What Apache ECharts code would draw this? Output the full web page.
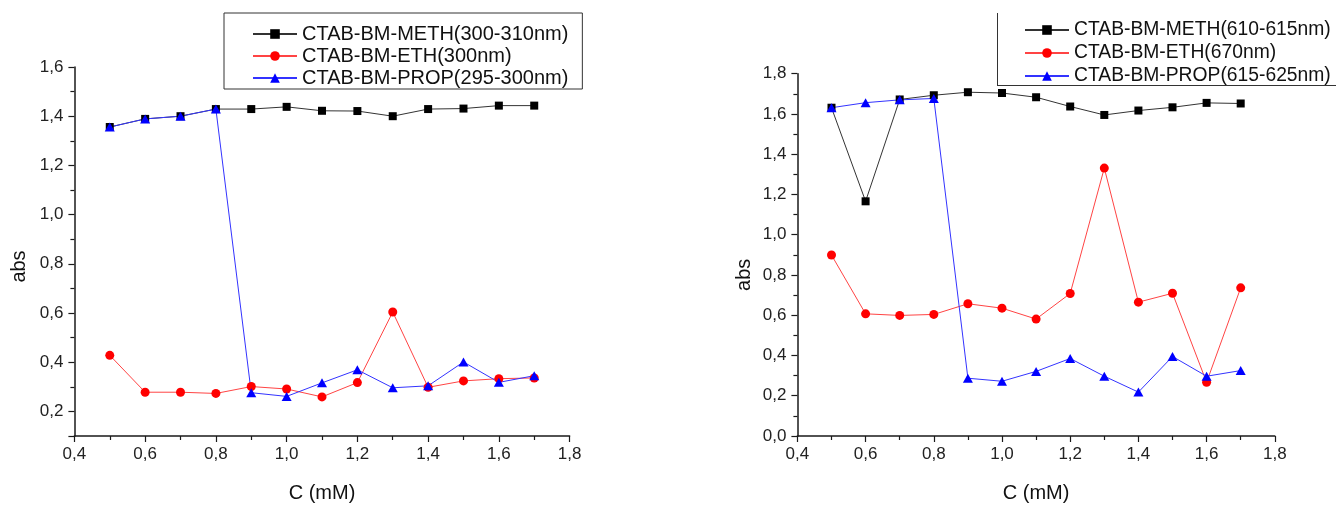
<!DOCTYPE html>
<html>
<head>
<meta charset="utf-8">
<script src="https://cdn.jsdelivr.net/npm/echarts@6/dist/echarts.min.js"></script>
<style>
html,body{margin:0;padding:0;background:#fff;}
#chart{width:1336px;height:508px;}
</style>
</head>
<body>
<div id="chart"></div>
<script>
// ---------- data ----------
const conc = [0.5, 0.6, 0.7, 0.8, 0.9, 1.0, 1.1, 1.2, 1.3, 1.4, 1.5, 1.6, 1.7];

const leftNames = ['CTAB-BM-METH(300-310nm)', 'CTAB-BM-ETH(300nm)', 'CTAB-BM-PROP(295-300nm)'];
const leftMeth = [1.356, 1.389, 1.400, 1.429, 1.429, 1.438, 1.422, 1.421, 1.400, 1.429, 1.431, 1.443, 1.443];
const leftEth  = [0.428, 0.278, 0.278, 0.273, 0.301, 0.291, 0.259, 0.317, 0.604, 0.298, 0.324, 0.333, 0.336];
const leftProp = [1.356, 1.389, 1.400, 1.429, 0.276, 0.261, 0.316, 0.369, 0.296, 0.304, 0.401, 0.318, 0.345];

const rightNames = ['CTAB-BM-METH(610-615nm)', 'CTAB-BM-ETH(670nm)', 'CTAB-BM-PROP(615-625nm)'];
const rightMeth = [1.631, 1.166, 1.672, 1.693, 1.708, 1.704, 1.683, 1.637, 1.595, 1.617, 1.633, 1.655, 1.652];
const rightEth  = [0.899, 0.607, 0.599, 0.604, 0.657, 0.635, 0.581, 0.708, 1.331, 0.665, 0.709, 0.267, 0.736];
const rightProp = [1.631, 1.656, 1.670, 1.677, 0.287, 0.272, 0.321, 0.385, 0.297, 0.218, 0.395, 0.297, 0.325];

const xTitle = 'C (mM)';
const yTitle = 'abs';

// ---------- helpers ----------
const FONT = '"Liberation Sans", Arial, sans-serif';
const pair = (xs, ys) => xs.map((x, i) => [x, ys[i]]);
const comma = v => (Math.round(v * 10) / 10).toFixed(1).replace('.', ',');
const AXC = '#1a1a1a';

function xAxis(grid) {
  return {
    type: 'value', gridIndex: grid, min: 0.4, max: 1.8, interval: 0.2,
    name: xTitle, nameLocation: 'middle', nameGap: 47,
    nameTextStyle: { fontFamily: FONT, fontSize: 20, color: '#111' },
    axisLine: { show: true, onZero: false, lineStyle: { color: AXC, width: 1.5 } },
    axisTick: { show: true, inside: false, length: 6, lineStyle: { color: AXC, width: 1.2 } },
    minorTick: { show: true, splitNumber: 2, length: 4, lineStyle: { color: AXC, width: 1.2 } },
    axisLabel: { formatter: comma, fontFamily: FONT, fontSize: 17, color: '#222', margin: 10 },
    splitLine: { show: false }
  };
}

const symMeth = { symbol: 'rect', symbolSize: 8, color: '#000000', lw: 1 };
const symEth = { symbol: 'circle', symbolSize: 9, color: '#ff0000', lw: 1 };
const symProp = { symbol: 'triangle', symbolSize: [10, 9], color: '#0000ff', lw: 1 };

function series(name, data, s, idx, lineColor) {
  return {
    type: 'line', name: name, data: data, xAxisIndex: idx, yAxisIndex: idx,
    symbol: s.symbol, symbolSize: s.symbolSize, showAllSymbol: true,
    lineStyle: { color: lineColor, width: s.lw },
    itemStyle: { color: s.color },
    emphasis: { disabled: true },
    animation: false, z: 3
  };
}

const legendBase = {
  orient: 'vertical', itemWidth: 44, itemHeight: 12, itemGap: 2,
  textStyle: { fontFamily: FONT, fontSize: 20, color: '#111', lineHeight: 20 },
  selectedMode: false, align: 'left'
};

const option = {
  backgroundColor: '#ffffff',
  animation: false,
  grid: [
    { left: 74.4, top: 67, right: 1336 - 569.6, bottom: 508 - 444.3, containLabel: false },
    { left: 797.4, top: 73.7, right: 1336 - 1274.8, bottom: 508 - 453.3, containLabel: false }
  ],
  xAxis: [xAxis(0), xAxis(1)],
  yAxis: [
    {
      type: 'value', gridIndex: 0, min: 0.1, max: 1.6, splitNumber: 8,
      name: yTitle, nameLocation: 'middle', nameGap: 45, nameRotate: 90,
      nameTextStyle: { fontFamily: FONT, fontSize: 20, color: '#111', padding: [0, 30, 0, 0] },
      axisLine: { show: true, onZero: false, lineStyle: { color: AXC, width: 1.5 } },
      axisTick: { show: true, inside: false, length: 6, lineStyle: { color: AXC, width: 1.2 } },
      minorTick: { show: true, splitNumber: 2, length: 4, lineStyle: { color: AXC, width: 1.2 } },
      axisLabel: { formatter: comma, fontFamily: FONT, fontSize: 17, color: '#222', margin: 11, showMinLabel: false },
      splitLine: { show: false }
    },
    {
      type: 'value', gridIndex: 1, min: 0, max: 1.8, interval: 0.2,
      name: yTitle, nameLocation: 'middle', nameGap: 43, nameRotate: 90,
      nameTextStyle: { fontFamily: FONT, fontSize: 20, color: '#111', padding: [0, 40, 0, 0] },
      axisLine: { show: true, onZero: false, lineStyle: { color: AXC, width: 1.5 } },
      axisTick: { show: true, inside: false, length: 6, lineStyle: { color: AXC, width: 1.2 } },
      minorTick: { show: true, splitNumber: 2, length: 4, lineStyle: { color: AXC, width: 1.2 } },
      axisLabel: { formatter: comma, fontFamily: FONT, fontSize: 17, color: '#222', margin: 11 },
      splitLine: { show: false }
    }
  ],
  legend: [
    Object.assign({}, legendBase, {
      data: leftNames, left: 224, top: 13,
      padding: [11, 14, 1, 28],
      borderColor: '#333', borderWidth: 1
    }),
    Object.assign({}, legendBase, {
      data: rightNames, left: 997, top: 14,
      padding: [6, 4, 2, 27],
      itemGap: 3,
      textStyle: { fontFamily: FONT, fontSize: 19.3, color: '#111', lineHeight: 20 },
      borderWidth: 0
    })
  ],
  graphic: [
    { type: 'line', shape: { x1: 997.5, y1: 13, x2: 997.5, y2: 85 }, style: { stroke: '#333', lineWidth: 1 }, silent: true },
    { type: 'line', shape: { x1: 997, y1: 85.5, x2: 1336, y2: 85.5 }, style: { stroke: '#333', lineWidth: 1 }, silent: true }
  ],
  series: [
    series(leftNames[0], pair(conc, leftMeth), symMeth, 0, '#333333'),
    series(leftNames[1], pair(conc, leftEth), symEth, 0, '#ff4444'),
    series(leftNames[2], pair(conc, leftProp), symProp, 0, '#3333ff'),
    series(rightNames[0], pair(conc, rightMeth), symMeth, 1, '#333333'),
    series(rightNames[1], pair(conc, rightEth), symEth, 1, '#ff4444'),
    series(rightNames[2], pair(conc, rightProp), symProp, 1, '#3333ff')
  ]
};

const chart = echarts.init(document.getElementById('chart'), null, { renderer: 'canvas' });
chart.setOption(option);
</script>
</body>
</html>
